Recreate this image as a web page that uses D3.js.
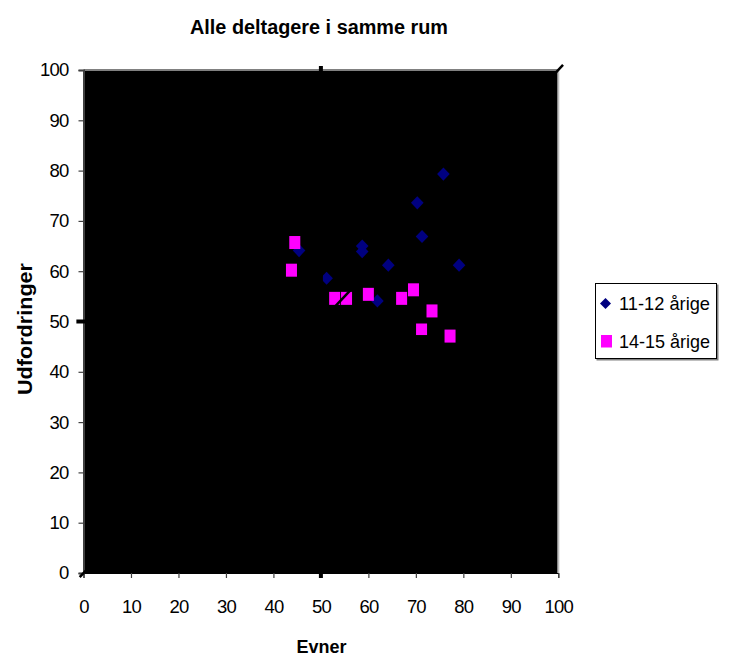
<!DOCTYPE html>
<html>
<head>
<meta charset="utf-8">
<script src="https://cdn.jsdelivr.net/npm/d3@7"></script>
<style>
  body { margin: 0; background: #fff; }
  text { font-family: "Liberation Sans", Arial, sans-serif; }
</style>
</head>
<body>
<svg id="Diagram"></svg>
<script>
// chart values
var seriesNames = ["11-12 årige", "14-15 årige"];
var evner11 = [75.8, 70.3, 71.3, 58.7, 58.7, 45.4, 64.2, 79.1, 51.2, 61.9];
var udf11   = [79.3, 73.6, 66.9, 65.0, 63.9, 64.1, 61.2, 61.2, 58.6, 54.1];
var evner14 = [44.5, 43.8, 52.9, 55.4, 60.0, 67.0, 69.5, 73.4, 71.2, 77.2];
var udf14   = [65.7, 60.2, 54.6, 54.6, 55.4, 54.6, 56.3, 52.1, 48.6, 47.1];
var xTicks = [0, 10, 20, 30, 40, 50, 60, 70, 80, 90, 100];
var yTicks = [0, 10, 20, 30, 40, 50, 60, 70, 80, 90, 100];
// black guide lines hidden on the black plot (x=50, y=50 and the diagonal)
var guideLines = [
    [[50, -1], [50, 100.8]],
    [[-1.5, 50], [99.6, 50]],
    [[-0.8, -0.8], [101, 101]]
];

var width = 729, height = 657;
var margin = {"left": 83.5, "right": 170.7, "top": 70, "bottom": 84};

var svg = d3.select("#Diagram")
    .attr("width", width)
    .attr("height", height);

svg.append("rect")
    .attr("width", width).attr("height", height)
    .attr("fill", "#fff");

var x = d3.scaleLinear()
    .domain([0, 100])
    .range([margin.left, width - margin.right]);
var y = d3.scaleLinear()
    .domain([0, 100])
    .range([height - margin.bottom, margin.top]);

// plot area
svg.append("rect")
    .attr("x", x(0)).attr("y", y(100))
    .attr("width", x(100) - x(0))
    .attr("height", y(0) - y(100))
    .attr("fill", "#000");
svg.append("line")
    .attr("x1", x(0)).attr("x2", x(100))
    .attr("y1", y(100)).attr("y2", y(100))
    .attr("stroke", "#808080").attr("stroke-width", 2);
svg.append("line")
    .attr("x1", x(100)).attr("x2", x(100))
    .attr("y1", y(100)).attr("y2", y(0))
    .attr("stroke", "#c0c0c0").attr("stroke-width", 2);

// Add X axis
var xAxis = svg.append("g")
    .attr("transform", "translate(0," + y(0) + ")")
    .call(d3.axisBottom(x).tickValues(xTicks).tickSize(5).tickPadding(22));
// Add Y axis
var yAxis = svg.append("g")
    .attr("transform", "translate(" + x(0) + ",0)")
    .call(d3.axisLeft(y).tickValues(yTicks).tickSize(5).tickPadding(10));

[xAxis, yAxis].forEach(function(a) {
    a.select(".domain").attr("stroke", "#404040").attr("stroke-width", 2);
    a.selectAll(".tick line").attr("stroke", "#404040").attr("stroke-width", 1.2);
    a.selectAll(".tick text")
        .attr("fill", "#000")
        .style("font-size", "18.5px")
        .style("letter-spacing", "-0.8px")
        .style("font-family", "'Liberation Sans', Arial, sans-serif");
});
xAxis.select(".domain").attr("stroke", "#000").attr("stroke-width", 1);

// points
var diamond = function(cx, cy, hw, hh) {
    return "M" + cx + "," + (cy - hh) + "L" + (cx + hw) + "," + cy +
        "L" + cx + "," + (cy + hh) + "L" + (cx - hw) + "," + cy + "Z";
};

svg.append("g")
    .selectAll("path")
    .data(evner11)
    .enter()
    .append("path")
    .attr("d", function(d, i) { return diamond(x(d), y(udf11[i]), 6.3, 6.6); })
    .attr("fill", "#000080");

svg.append("g")
    .selectAll("rect")
    .data(evner14)
    .enter()
    .append("rect")
    .attr("x", function(d) { return x(d) - 5.5; })
    .attr("y", function(d, i) { return y(udf14[i]) - 6.5; })
    .attr("width", 11)
    .attr("height", 13)
    .attr("fill", "#ff00ff");

svg.append("g")
    .selectAll("line")
    .data(guideLines)
    .enter()
    .append("line")
    .attr("x1", function(d) { return x(d[0][0]); })
    .attr("y1", function(d) { return y(d[0][1]); })
    .attr("x2", function(d) { return x(d[1][0]); })
    .attr("y2", function(d) { return y(d[1][1]); })
    .attr("stroke", "#000")
    .attr("stroke-width", function(d, i) { return i < 2 ? 4 : 2.5; });

// titles
svg.append("text")
    .attr("x", 319).attr("y", 33.5)
    .attr("text-anchor", "middle")
    .attr("textLength", 258).attr("lengthAdjust", "spacingAndGlyphs")
    .style("font-size", "19.5px").style("font-weight", "bold")
    .text("Alle deltagere i samme rum");

svg.append("text")
    .attr("x", 321.5).attr("y", 653)
    .attr("text-anchor", "middle")
    .attr("textLength", 50).attr("lengthAdjust", "spacingAndGlyphs")
    .style("font-size", "18.5px").style("font-weight", "bold")
    .text("Evner");

svg.append("text")
    .attr("transform", "translate(31.5,329) rotate(-90)")
    .attr("text-anchor", "middle")
    .attr("textLength", 132).attr("lengthAdjust", "spacingAndGlyphs")
    .style("font-size", "21px").style("font-weight", "bold")
    .text("Udfordringer");

// legend
var legend = svg.append("g").attr("transform", "translate(595,283)");
legend.append("rect")
    .attr("x", 1.5).attr("y", 1.5).attr("width", 122).attr("height", 76)
    .attr("fill", "#808080");
legend.append("rect")
    .attr("x", 0.5).attr("y", 0.5).attr("width", 121).attr("height", 75)
    .attr("fill", "#fff").attr("stroke", "#000").attr("stroke-width", 1);

var item = legend.selectAll("g.item")
    .data(seriesNames)
    .enter()
    .append("g")
    .attr("class", "item")
    .attr("transform", function(d, i) { return "translate(0," + (20.5 + i * 37.5) + ")"; });

item.filter(function(d, i) { return i === 0; })
    .append("path")
    .attr("d", diamond(10.5, 0, 5.5, 5.5))
    .attr("fill", "#000080");
item.filter(function(d, i) { return i === 1; })
    .append("rect")
    .attr("x", 6).attr("y", -6).attr("width", 11).attr("height", 12.5)
    .attr("fill", "#ff00ff");

item.append("text")
    .attr("x", 24).attr("y", 6.5)
    .attr("textLength", 91).attr("lengthAdjust", "spacingAndGlyphs")
    .style("font-size", "18.5px")
    .text(function(d) { return d; });
</script>
</body>
</html>
